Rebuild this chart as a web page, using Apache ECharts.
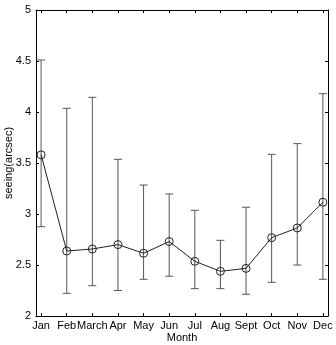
<!DOCTYPE html>
<html>
<head>
<meta charset="utf-8">
<script src="https://cdn.jsdelivr.net/npm/echarts@6/dist/echarts.min.js"></script>
<style>
  html, body { margin: 0; padding: 0; background: #fff; }
  #chart { width: 336px; height: 345px; }
</style>
</head>
<body>
<div id="chart"></div>
<script>
// month names and positions
const months = ['Jan', 'Feb', 'March', 'Apr', 'May', 'Jun', 'Jul', 'Aug', 'Sept', 'Oct', 'Nov', 'Dec']
const monthIdx = [1, 2, 3, 4, 5, 6, 7, 8, 9, 10, 11, 12]

// mean seeing and error bar ends
const seeing = [3.58, 2.637, 2.657, 2.70, 2.615, 2.73, 2.536, 2.438, 2.467, 2.768, 2.863, 3.115]
const upper = [4.51, 4.036, 4.144, 3.536, 3.284, 3.196, 3.036, 2.742, 3.066, 3.585, 3.69, 4.18]
const lower = [2.875, 2.222, 2.297, 2.25, 2.36, 2.39, 2.268, 2.268, 2.213, 2.33, 2.5, 2.36]

const chart = echarts.init(document.getElementById('chart'))

const font = 'Liberation Sans, Arial, sans-serif'

const lineData = monthIdx.map((m, i) => [m, seeing[i]])
const errData = monthIdx.map((m, i) => [m, lower[i], upper[i]])

const baseX = {
  type: 'value',
  min: 0.8,
  max: 12.2,
  splitLine: { show: false },
  axisLine: { show: true, onZero: false, lineStyle: { color: '#000', width: 1 } },
  axisTick: { show: true, inside: true, length: 3, customValues: monthIdx, lineStyle: { color: '#000' } },
  axisLabel: { show: false }
}

const baseY = {
  type: 'value',
  min: 2,
  max: 5,
  interval: 0.5,
  splitLine: { show: false },
  axisLine: { show: true, onZero: false, lineStyle: { color: '#000', width: 1 } },
  axisTick: { show: true, inside: true, length: 3, lineStyle: { color: '#000' } },
  axisLabel: { show: false }
}

chart.setOption({
  backgroundColor: '#fff',
  animation: false,
  grid: { left: 36, right: 8, top: 10, bottom: 29, outerBoundsMode: 'none', containLabel: false },
  xAxis: [
    Object.assign({}, baseX, {
      position: 'bottom',
      name: 'Month',
      nameLocation: 'middle',
      nameGap: 16,
      nameMoveOverlap: false,
      nameTextStyle: { color: '#000', fontSize: 11, fontFamily: font },
      axisLabel: {
        show: true,
        customValues: monthIdx,
        color: '#000',
        fontSize: 11,
        fontFamily: font,
        margin: 4,
        formatter: v => months[Math.round(v) - 1]
      }
    }),
    Object.assign({}, baseX, { position: 'top' })
  ],
  yAxis: [
    Object.assign({}, baseY, {
      position: 'left',
      name: 'seeing(arcsec)',
      nameLocation: 'middle',
      nameGap: 22,
      nameMoveOverlap: false,
      nameTextStyle: { color: '#000', fontSize: 11, fontFamily: font },
      axisLabel: {
        show: true,
        color: '#000',
        fontSize: 11,
        fontFamily: font,
        margin: 5,
        formatter: v => String(v)
      }
    }),
    Object.assign({}, baseY, { position: 'right' })
  ],
  series: [
    {
      type: 'custom',
      name: 'error',
      data: errData,
      z: 2,
      renderItem(params, api) {
        const x = api.value(0)
        const lo = api.coord([x, api.value(1)])
        const hi = api.coord([x, api.value(2)])
        const cap = 4
        const style = { stroke: '#555', lineWidth: 1 }
        return {
          type: 'group',
          children: [
            { type: 'line', shape: { x1: lo[0], y1: lo[1], x2: hi[0], y2: hi[1] }, style },
            { type: 'line', shape: { x1: lo[0] - cap, y1: lo[1], x2: lo[0] + cap, y2: lo[1] }, style },
            { type: 'line', shape: { x1: hi[0] - cap, y1: hi[1], x2: hi[0] + cap, y2: hi[1] }, style }
          ]
        }
      }
    },
    {
      type: 'line',
      name: 'seeing',
      data: lineData,
      z: 3,
      symbol: 'circle',
      symbolSize: 8,
      showAllSymbol: true,
      lineStyle: { color: '#222', width: 1 },
      itemStyle: { color: 'rgba(0,0,0,0)', borderColor: '#222', borderWidth: 1 }
    }
  ]
})
</script>
</body>
</html>
